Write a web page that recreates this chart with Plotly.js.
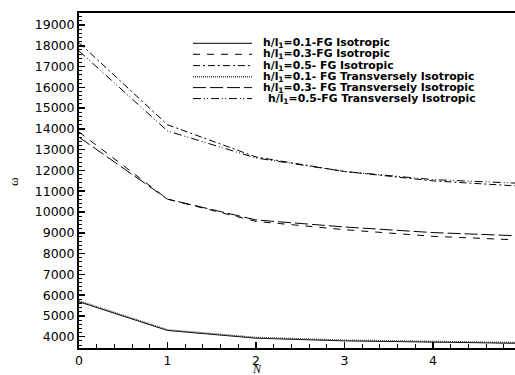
<!DOCTYPE html>
<html><head><meta charset="utf-8">
<script src="https://cdn.plot.ly/plotly-3.0.1.min.js"></script>
<style>html,body{margin:0;padding:0;background:#fff}#c{width:515px;height:375px}</style>
</head><body><div id="c"></div>
<script>
// Data
const N = [0, 1, 2, 3, 4, 5];
const iso01 = [5680, 4300, 3930, 3800, 3740, 3680];
const iso03 = [13850, 10620, 9550, 9150, 8830, 8650];
const iso05 = [18150, 14200, 12650, 11950, 11500, 11240];
const tr01 = [5720, 4330, 3960, 3830, 3770, 3710];
const tr03 = [13600, 10620, 9620, 9280, 9010, 8850];
const tr05 = [17750, 13900, 12600, 11950, 11560, 11380];
const names = [
  'h/l<sub>1</sub>=0.1-FG Isotropic',
  'h/l<sub>1</sub>=0.3-FG Isotropic',
  'h/l<sub>1</sub>=0.5- FG Isotropic',
  'h/l<sub>1</sub>=0.1- FG Transversely Isotropic',
  'h/l<sub>1</sub>=0.3- FG Transversely Isotropic',
  'h/l<sub>1</sub>=0.5-FG Transversely Isotropic'
];
const yTicks = [4000,5000,6000,7000,8000,9000,10000,11000,12000,13000,14000,15000,16000,17000,18000,19000];
const xTicks = [0, 1, 2, 3, 4];
const seriesY = [iso01, iso03, iso05, tr01, tr03, tr05];
const dashes = ['solid', '7px,7px', '7px,3px,2px,3px', '1px,1px', '13px,4px', '8px,3px,1px,2px,1px,3px'];
const colors = ['#000', '#000', '#000', '#444', '#000', '#000'];
const widths = [1, 1, 1, 1.6, 1, 1];

// plot geometry (px)
const L = 79, R = 515, T = 13, B = 348;
const px2x = p => (p - L) / (R - L);
const py2y = p => (B - p) / (B - T);

const traces = seriesY.map((y, i) => ({
  x: N, y: y, type: 'scatter', mode: 'lines', name: names[i],
  line: {color: colors[i], width: widths[i], dash: dashes[i]},
  showlegend: false, hoverinfo: 'skip'
}));

const legY = [43.3, 54.3, 65.6, 76.7, 87.6, 98.6];
const shapes = [], annotations = [];
legY.forEach((py, i) => {
  shapes.push({type: 'line', xref: 'paper', yref: 'paper',
    x0: px2x(193), x1: px2x(252), y0: py2y(py), y1: py2y(py),
    line: {color: colors[i], width: widths[i], dash: dashes[i]}});
  annotations.push({xref: 'paper', yref: 'paper', x: px2x(i === 5 ? 266 : 261), y: py2y(py),
    xanchor: 'left', yanchor: 'middle', showarrow: false,
    text: '<b>' + names[i] + '</b>',
    font: {family: 'DejaVu Sans, sans-serif', size: 10.8, color: '#000'}});
});
annotations.push({xref: 'paper', yref: 'paper', x: px2x(257), y: py2y(369), xanchor: 'center', yanchor: 'middle',
  showarrow: false, text: '<i>N</i>', font: {family: 'Liberation Serif, Times New Roman, serif', size: 12, color: '#000'}});
annotations.push({xref: 'paper', yref: 'paper', x: px2x(13), y: py2y(182), xanchor: 'center', yanchor: 'middle',
  showarrow: false, textangle: -90, text: 'ω', font: {family: 'Liberation Serif, Times New Roman, serif', size: 13, color: '#000'}});

const layout = {
  width: 515, height: 375,
  margin: {l: L, r: 515 - R, t: T, b: 375 - B, pad: 0},
  paper_bgcolor: '#fff', plot_bgcolor: '#fff',
  font: {family: 'DejaVu Sans, sans-serif', size: 12.5, color: '#000'},
  xaxis: {range: [0, 4.927], tickvals: xTicks, ticktext: xTicks.map(String),
    showgrid: false, zeroline: false, showline: true, linecolor: '#000', linewidth: 2, mirror: true,
    ticks: 'inside', ticklen: 6, tickwidth: 1.5, tickcolor: '#000',
    minor: {ticks: 'inside', dtick: 0.2, tick0: 0, ticklen: 4, tickcolor: '#000', tickwidth: 1, showgrid: false},
    tickfont: {size: 12.5}},
  yaxis: {range: [3456, 19577], tickvals: yTicks, ticktext: yTicks.map(String),
    showgrid: false, zeroline: false, showline: true, linecolor: '#000', linewidth: 2, mirror: true,
    ticks: 'inside', ticklen: 6, tickwidth: 1.5, tickcolor: '#000',
    minor: {ticks: 'inside', dtick: 200, tick0: 0, ticklen: 3, tickcolor: '#000', tickwidth: 1, showgrid: false},
    tickfont: {size: 12.5}},
  shapes: shapes, annotations: annotations, showlegend: false
};
Plotly.newPlot('c', traces, layout, {staticPlot: true, displayModeBar: false});
</script></body></html>
